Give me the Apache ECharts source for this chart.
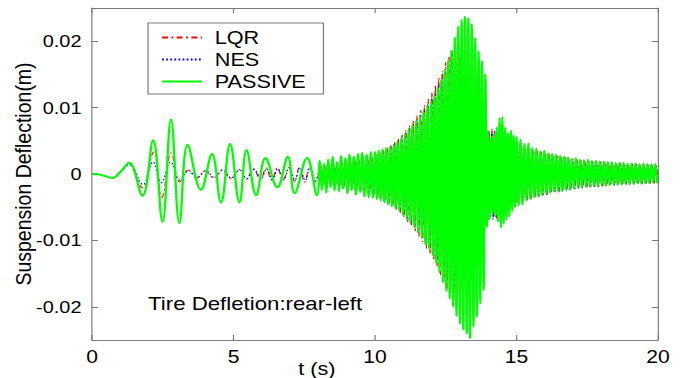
<!DOCTYPE html>
<html>
<head>
<meta charset="utf-8">
<script src="https://cdn.jsdelivr.net/npm/echarts@6/dist/echarts.min.js"></script>
<style>
  html, body { margin: 0; padding: 0; background: #fff; overflow: hidden; }
  /* the source figure is stretched sideways, so draw narrow and widen it */
  #chart { width: 581px; height: 378px; transform: scaleX(1.1704); transform-origin: 0 0; }
</style>
</head>
<body>
<div id="chart"></div>
<script>
// values are in mm, converted to m when the series are built
// slow part: [t (s), deflection (mm)] at each turning point
const passiveEarly = [[0,0],[0.3,-0.1],[0.72,-0.6],[1.0,0.3],[1.31,1.7],[1.78,-3.3],[2.16,5.1],[2.49,-7.2],[2.79,8.2],[3.09,-7.4],[3.38,4.4],[3.85,-2.4],[4.24,3.0],[4.56,-4.3],[4.88,4.5],[5.21,-4.3],[5.46,3.6],[5.8,-3.2],[6.13,2.4],[6.55,-2.0],[6.92,2.6],[7.16,-2.9],[7.6,2.4],[7.95,-3.2]];
const lqrEarly = [[0,0],[0.3,-0.1],[0.72,-0.6],[1.0,0.3],[1.3,1.6],[1.78,-2.1],[2.18,3.3],[2.47,-3.5],[2.8,3.2],[3.1,-1.2],[3.4,0.6],[3.7,-0.6],[4.0,0.5],[4.3,-0.6],[4.6,0.6],[4.9,-0.7],[5.2,0.7],[5.45,-0.8],[5.7,0.8],[5.95,-0.8],[6.15,0.9],[6.35,-0.9],[6.55,1.0],[6.75,-0.9],[6.95,1.0],[7.15,-1.1],[7.33,1.0],[7.51,-1.2],[7.69,1.1],[7.87,-1.2]];
const nesEarly = [[0,0],[0.3,-0.1],[0.72,-0.6],[1.0,0.3],[1.32,1.4],[1.8,-1.6],[2.15,1.8],[2.45,-1.3],[2.78,1.8],[3.1,-0.9],[3.42,0.5],[3.72,-0.5],[4.02,0.5],[4.32,-0.5],[4.62,0.6],[4.92,-0.6],[5.22,0.6],[5.47,-0.7],[5.72,0.7],[5.97,-0.7],[6.17,0.8],[6.37,-0.8],[6.57,0.8],[6.77,-0.9],[6.97,0.9],[7.17,-0.9],[7.35,1.0],[7.53,-1.0],[7.71,1.0],[7.89,-1.1]];

// fast part: segments of [start (s), half period (s)], peaks listed per segment
const denseGrid = [[8.05,0.075],[10.0,0.066],[11.98,0.06],[13.42,0.06],[14.0,0.05],[15.0,0.07]];

const passiveDense = [
  [2.0,-2.4,1.6,-2.8,2.2,-2.0,2.6,-2.5,1.8,-2.6,2.7,-2.2,2.4,-2.9,2.9,-2.4,2.6,-3.1,3.0,-2.7,3.2,-3.4,2.9,-3.5,3.3,-3.6],
  [3.3,-3.8,3.5,-4.0,3.7,-4.3,3.9,-4.6,4.0,-4.9,4.4,-5.2,4.9,-5.6,5.4,-6.2,6.0,-6.8,6.8,-7.4,7.4,-8.0,8.0,-8.8,8.7,-9.6,9.4,-10.6,10.2,-11.2],
  [10.9,-12.2,11.8,-13.4,12.9,-14.8,14.2,-16.3,15.6,-17.6,17.0,-18.8,18.6,-20.0,20.6,-21.4,22.2,-22.6,23.2,-23.4,23.7,-24.0,23.4,-24.7],
  [22.5,-23.0,20.5,-21.5,18.5,-19.5,17.0,-17.5,15.0,-8.0],
  [6.5,-6.8,5.5,-6.0,6.0,-6.4,7.0,-7.2,8.4,-8.1,8.6,-7.5,7.0,-6.9,6.2,-6.4,6.6,-5.6,5.8,-5.0],
  [5.6,-4.8,5.2,-4.6,4.5,-4.0,4.6,-3.8,3.9,-3.5,3.8,-3.4,3.4,-3.2,3.5,-2.9,3.1,-2.8,3.0,-2.6,2.9,-2.5,2.7,-2.6,
   2.6,-2.3,2.5,-2.4,2.3,-2.2,2.4,-2.0,2.2,-2.1,2.1,-1.9,2.2,-1.9,2.0,-1.8,2.0,-1.9,1.9,-1.7,1.9,-1.8,1.8,-1.7,
   1.8,-1.6,1.7,-1.7,1.7,-1.6,1.7,-1.5,1.6,-1.6,1.6,-1.5,1.6,-1.4,1.5,-1.5,1.6,-1.4,1.5,-1.4,1.5,-1.3,1.5,-1.4]
];
const lqrDense = [
  [1.2,-1.4,1.3,-1.5,1.4,-1.6,1.5,-1.7,1.6,-1.8,1.8,-1.9,1.9,-2.1,2.0,-2.2,2.2,-2.4,2.3,-2.5,2.5,-2.7,2.7,-2.9,2.9,-3.1],
  [3.0,-3.4,3.3,-3.7,3.6,-4.0,3.9,-4.4,4.3,-4.8,4.8,-5.3,5.3,-5.9,5.9,-6.5,6.6,-7.2,7.3,-7.9,8.0,-8.6,8.8,-9.4,9.6,-10.2,10.4,-11.2,11.3,-12.1],
  [12.3,-13.0,13.4,-14.0,14.5,-15.2,15.6,-16.3,16.8,-17.2,17.8,-17.8,18.4,-18.2,18.6,-18.0,18.2,-17.4,17.2,-16.4,16.0,-15.2,14.8,-14.0],
  [13.0,-12.4,11.6,-11.0,10.2,-9.6,9.0,-8.4,7.6,-7.0],
  [6.6,-6.4,6.8,-6.6,6.5,-6.8,6.3,-6.0,5.8,-5.9,5.6,-5.4,5.2,-5.3,5.0,-4.8,4.8,-4.6,4.6,-4.4],
  [4.4,-4.2,4.2,-4.0,4.0,-3.8,3.8,-3.6,3.6,-3.4,3.4,-3.3,3.3,-3.1,3.1,-3.0,3.0,-2.8,2.8,-2.7,2.7,-2.6,2.6,-2.5,
   2.5,-2.4,2.4,-2.3,2.3,-2.2,2.2,-2.1,2.1,-2.0,2.0,-2.0,2.0,-1.9,1.9,-1.9,1.9,-1.8,1.8,-1.8,1.8,-1.7,1.7,-1.7,
   1.7,-1.6,1.6,-1.6,1.6,-1.6,1.6,-1.5,1.5,-1.5,1.5,-1.5,1.5,-1.5,1.5,-1.4,1.4,-1.4,1.4,-1.4,1.4,-1.4,1.4,-1.4]
];
const nesDense = [
  [1.0,-1.2,1.1,-1.4,1.3,-1.5,1.4,-1.6,1.5,-1.8,1.7,-1.9,1.8,-2.0,2.0,-2.2,2.1,-2.3,2.3,-2.5,2.4,-2.6,2.6,-2.8,2.8,-3.2],
  [2.9,-3.6,3.2,-3.8,3.5,-4.0,3.8,-4.3,4.1,-4.6,4.6,-5.0,5.0,-5.6,5.6,-6.1,6.2,-6.8,6.9,-7.4,7.5,-8.1,8.2,-8.8,9.0,-9.6,9.7,-10.4,10.5,-11.2],
  [11.4,-12.0,12.4,-13.0,13.4,-14.0,14.4,-15.0,15.4,-15.8,16.2,-16.4,16.8,-16.8,17.0,-16.6,16.6,-16.0,15.8,-15.0,14.6,-14.0,13.6,-12.8],
  [12.0,-11.4,10.6,-10.0,9.4,-8.8,8.2,-7.6,7.0,-6.6],
  [6.2,-6.6,6.4,-6.8,6.6,-6.5,6.0,-5.8,5.6,-5.6,5.4,-5.2,5.0,-5.0,4.8,-4.6,4.6,-4.4,4.4,-4.2],
  [4.2,-4.4,4.0,-4.1,3.8,-3.9,3.6,-3.7,3.4,-3.5,3.3,-3.4,3.1,-3.2,3.0,-3.1,2.9,-2.9,2.7,-2.8,2.6,-2.7,2.5,-2.6,
   2.4,-2.5,2.3,-2.4,2.2,-2.3,2.1,-2.2,2.0,-2.1,2.0,-2.0,1.9,-2.0,1.9,-1.9,1.8,-1.9,1.8,-1.8,1.7,-1.8,1.7,-1.7,
   1.6,-1.7,1.6,-1.6,1.6,-1.6,1.5,-1.6,1.5,-1.5,1.5,-1.5,1.4,-1.5,1.4,-1.5,1.4,-1.4,1.4,-1.4,1.3,-1.4,1.3,-1.4]
];
// phase lag of the controlled responses against the passive one (s)
const lqrShift = 0.035;
const nesShift = 0.02;

function buildSeries(early, dense, shift) {
  const pts = early.map(p => [p[0], p[1] / 1000]);
  denseGrid.forEach((seg, i) => {
    dense[i].forEach((v, k) => {
      pts.push([seg[0] + k * seg[1] + shift, v / 1000]);
    });
  });
  return pts;
}

const font = 'Liberation Sans, Arial, Helvetica, sans-serif';
const frame = '#7a7a7a';

const chart = echarts.init(document.getElementById('chart'), null, { renderer: 'svg' });
const axisCommon = {
  axisLine: { show: true, onZero: false, lineStyle: { color: frame, width: 1 } },
  axisTick: { show: true, inside: true, length: 5, lineStyle: { color: frame } },
  splitLine: { show: false }
};
const option = {
  backgroundColor: '#fff',
  animation: false,
  grid: { left: 78.6, right: 18.8, top: 8, bottom: 38, outerBoundsMode: 'none' },
  legend: {
    orient: 'vertical',
    left: 126.5,
    top: 23,
    itemWidth: 34,
    itemHeight: 14,
    itemGap: 3,
    padding: [5, 15, 3, 11],
    borderColor: frame,
    borderWidth: 1,
    backgroundColor: '#fff',
    itemStyle: { opacity: 0 },
    textStyle: { fontFamily: font, fontSize: 18.5, lineHeight: 16, color: '#000', padding: [0, 0, 0, 6] },
    data: ['LQR', 'NES', 'PASSIVE']
  },
  xAxis: [
    Object.assign({
      type: 'value', min: 0, max: 20, interval: 5,
      axisLabel: { fontFamily: font, fontSize: 18, color: '#000', margin: 8 }
    }, axisCommon),
    Object.assign({
      type: 'value', min: 0, max: 20, interval: 5, position: 'top',
      axisLabel: { show: false }
    }, axisCommon)
  ],
  yAxis: [
    Object.assign({
      type: 'value', min: -0.025, max: 0.025, splitNumber: 5,
      name: 'Suspension Deflection(m)',
      nameLocation: 'middle',
      nameGap: 49,
      nameMoveOverlap: false,
      nameTextStyle: { fontFamily: font, fontSize: 19.5, color: '#000' },
      axisLabel: { fontFamily: font, fontSize: 17, color: '#000', margin: 9,
        showMinLabel: false, showMaxLabel: false }
    }, axisCommon),
    Object.assign({
      type: 'value', min: -0.025, max: 0.025, splitNumber: 5, position: 'right',
      axisLabel: { show: false }
    }, axisCommon)
  ],
  graphic: [
    {
      type: 'text', x: 270.8, y: 369,
      style: { text: 't (s)', fontFamily: font, fontSize: 18.5, fill: '#000', align: 'center', verticalAlign: 'middle' }
    },
    {
      type: 'text', x: 126.5, y: 303,
      style: { text: 'Tire Defletion:rear-left', fontFamily: font, fontSize: 19, fill: '#000', align: 'left', verticalAlign: 'middle' }
    }
  ],
  series: [
    {
      name: 'LQR', type: 'line', symbol: 'none', smooth: 0.4,
      data: buildSeries(lqrEarly, lqrDense, lqrShift),
      lineStyle: { color: '#ff0000', width: 1, type: [5, 3, 1.5, 3] },
      itemStyle: { color: '#ff0000' },
      emphasis: { disabled: true }
    },
    {
      name: 'NES', type: 'line', symbol: 'none', smooth: 0.4,
      data: buildSeries(nesEarly, nesDense, nesShift),
      lineStyle: { color: '#0000ff', width: 1, type: [1.5, 2] },
      itemStyle: { color: '#0000ff' },
      emphasis: { disabled: true }
    },
    {
      name: 'PASSIVE', type: 'line', symbol: 'none', smooth: 0.4,
      data: buildSeries(passiveEarly, passiveDense, 0),
      lineStyle: { color: '#00ff00', width: 2 },
      itemStyle: { color: '#00ff00' },
      emphasis: { disabled: true }
    }
  ]
};
chart.setOption(option);
</script>
</body>
</html>
